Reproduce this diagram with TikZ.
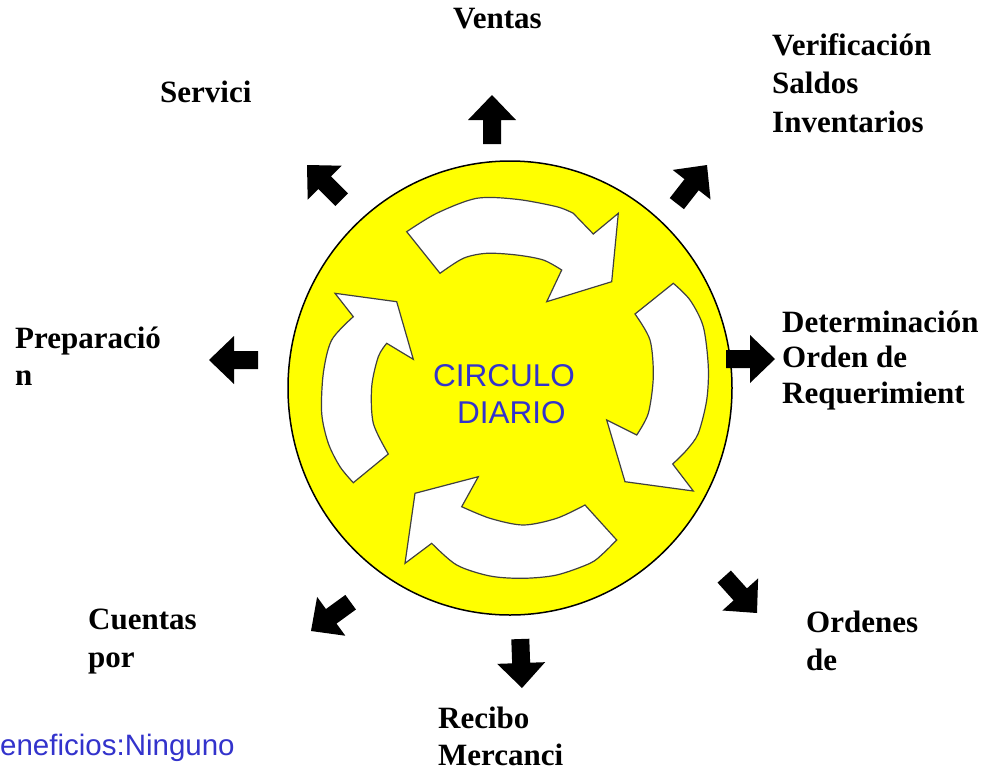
\documentclass[tikz,border=0pt]{standalone}
\usepackage{fontspec}
\setmainfont{Liberation Serif}
\newfontfamily\arialf{Liberation Sans}
\definecolor{circyellow}{RGB}{255,255,0}
\definecolor{txtblue}{RGB}{51,51,204}
\tikzset{
  lbl/.style={anchor=base west, inner sep=0pt, font=\fontsize{31}{38}\selectfont\bfseries},
  bluelbl/.style={anchor=base west, inner sep=0pt, text=txtblue, font=\arialf\fontsize{31.5}{37}\selectfont},
  whitearrow/.style={fill=white, draw=black!75, line width=1.2pt, line join=miter},
  blockarrow/.pic={\fill[black] (0,0) -- (-25,24) -- (-25,9) -- (-49,9) -- (-49,-9) -- (-25,-9) -- (-25,-24) -- cycle;}
}
\begin{document}
\begin{tikzpicture}[x=1pt,y=-1pt]
\useasboundingbox (0,0) rectangle (985,769);
\clip (0,0) rectangle (985,769);
\fill[white] (0,0) rectangle (985,769);

% main circle
\draw[fill=circyellow, line width=1.5pt] (510,388) ellipse [x radius=222, y radius=227];

% curved white arrows
\draw[whitearrow] (406.7,231.7) -- plot[smooth] coordinates {(406.7,231.7) (436.7,213.3) (476.7,198.3) (516.7,199.3) (556.7,206.7) (573.3,213.3)}
  -- (593.3,234) -- (618.3,213.3) -- (611.7,281.7) -- (546.7,301.7) -- (561.7,270)
  -- plot[smooth] coordinates {(561.7,270) (543.3,260) (516.7,255) (486.7,253.3) (463.3,258.3) (440,273.3)} -- cycle;

\draw[whitearrow] (673.3,283.3) -- plot[smooth] coordinates {(673.3,283.3) (690,300) (703.3,326.7) (708.3,366.7) (706.7,400) (698.3,433.3) (686.7,450) (672.7,464)}
  -- (693.3,491) -- (625,481.7) -- (606.7,420) -- (636.7,435)
  -- plot[smooth] coordinates {(636.7,435) (648.3,413.3) (653.3,376.7) (650,340) (635,314)} -- cycle;

\draw[whitearrow] (616.7,540) -- plot[smooth] coordinates {(616.7,540) (603.3,553.3) (590,563.3) (556.7,575) (523.3,578.3) (490,576) (456.7,565) (431.7,543.3)}
  -- (405,563.3) -- (415,493.3) -- (478.3,476.7) -- (461.7,506.7)
  -- plot[smooth] coordinates {(461.7,506.7) (490,518.3) (523.3,525) (556.7,518.3) (585,505)} -- cycle;

\draw[whitearrow] (353.3,482.7) -- plot[smooth] coordinates {(353.3,482.7) (340,466.7) (328.3,443.3) (321.7,413.3) (323.3,373.3) (331.7,340) (353.3,316.7)}
  -- (335,293.3) -- (396.7,301.7) -- (413.3,359.3) -- (386.7,343.3)
  -- plot[smooth] coordinates {(386.7,343.3) (378.3,356.7) (371.7,386.7) (373.3,423.3) (388.3,454)} -- cycle;

% centre text
\node[bluelbl] (circ1) at (433,386) {CIRCULO};
\node[bluelbl] (circ2) at (457,423) {DIARIO};

% block arrows
\pic[rotate=90] (aVentas) at (492,95) {blockarrow};
\pic[rotate=135] (aServ) at (307,165) {blockarrow};
\pic[rotate=52] (aVerif) at (707,165) {blockarrow};
\pic[rotate=180] (aPrep) at (209,360) {blockarrow};
\pic[rotate=0] (aDet) at (775,359) {blockarrow};
\pic[rotate=-48] (aOrd) at (757,613) {blockarrow};
\pic[rotate=-88] (aRec) at (522,688) {blockarrow};
\pic[rotate=-144] (aCue) at (311,631) {blockarrow};

% labels
\node[lbl] (ventas) at (453,28) {Ventas};
\node[lbl] (verif1) at (772,55) {Verificación};
\node[lbl] (verif2) at (772,93) {Saldos};
\node[lbl] (verif3) at (772,132) {Inventarios};
\node[lbl] (serv) at (160,102) {Servici};
\node[lbl] (prep1) at (15,348) {Preparació};
\node[lbl] (prep2) at (15,385) {n};
\node[lbl] (det1) at (782,332) {Determinación};
\node[lbl] (det2) at (782,367) {Orden de};
\node[lbl] (det3) at (782,403) {Requerimient};
\node[lbl] (cue1) at (88,629) {Cuentas};
\node[lbl] (cue2) at (88,667) {por};
\node[lbl] (ord1) at (806,632) {Ordenes};
\node[lbl] (ord2) at (806,670) {de};
\node[lbl] (rec1) at (438,728) {Recibo};
\node[lbl] (rec2) at (438,765) {Mercanci};

\node[anchor=base west, inner sep=0pt, text=txtblue, font=\arialf\fontsize{29.5}{35}\selectfont] (benef) at (-19.7,755) {Beneficios:Ninguno};
\end{tikzpicture}
\end{document}
